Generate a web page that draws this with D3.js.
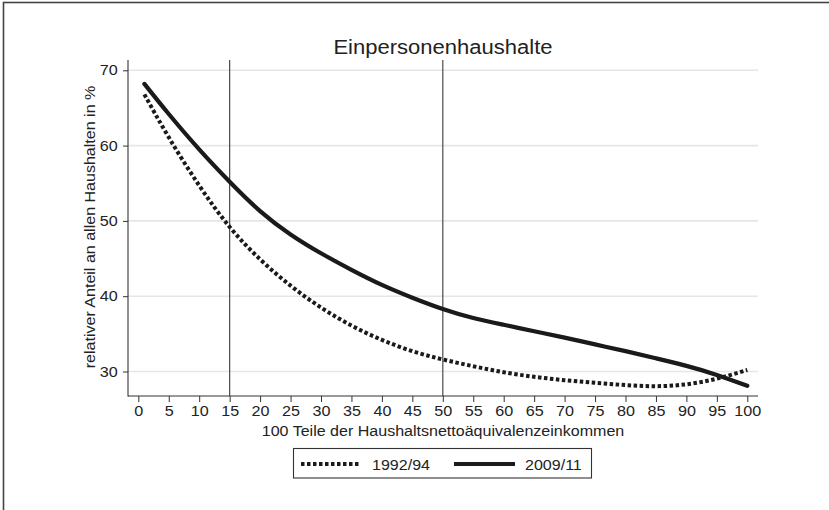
<!DOCTYPE html>
<html><head><meta charset="utf-8">
<script src="https://cdn.jsdelivr.net/npm/d3@7"></script>
<style>body{margin:0;background:#fff}svg{display:block}text{font-family:"Liberation Sans",Arial,sans-serif;fill:#222}</style>
</head><body>
<script>
const title = "Einpersonenhaushalte";
const xLabel = "100 Teile der Haushaltsnettoäquivalenzeinkommen";
const yLabel = "relativer Anteil an allen Haushalten in %";
const seriesNames = ["1992/94", "2009/11"];
const xVals = [1,5,10,15,20,25,30,35,40,45,50,55,60,65,70,75,80,85,90,95,100];
const v1992 = [66.8,61.1,54.7,49.2,44.9,41.4,38.5,36.1,34.2,32.7,31.6,30.7,29.9,29.3,28.85,28.5,28.2,28.05,28.3,29.05,30.2];
const v2009 = [68.2,64.2,59.5,55.2,51.3,48.2,45.7,43.5,41.5,39.8,38.3,37.1,36.2,35.35,34.5,33.6,32.7,31.75,30.75,29.55,28.1];
const xTicks = d3.range(0,101,5);
const yTicks = [30,40,50,60,70];
const refLines = [15,50];

(function(){
const W=829,H=510, SX=1.13;
const svg=d3.select("body").append("svg").attr("width",W).attr("height",H);
svg.append("rect").attr("x",3.5).attr("y",2.5).attr("width",W+20).attr("height",H+20)
  .attr("fill","none").attr("stroke","#444").attr("stroke-width",1.6);

const x=d3.scaleLinear().domain([0,100]).range([138.3,747.3]);
const y=d3.scaleLinear().domain([30,70]).range([371.5,70.3]);
const pL=128, pR=758, pT=60, pB=396;

svg.append("g").selectAll("line").data(yTicks).join("line")
  .attr("x1",pL).attr("x2",pR).attr("y1",d=>y(d)).attr("y2",d=>y(d))
  .attr("stroke","#e6e6e6").attr("stroke-width",1.6);

svg.append("g").selectAll("line").data(refLines).join("line")
  .attr("x1",d=>x(d)).attr("x2",d=>x(d)).attr("y1",pT).attr("y2",pB)
  .attr("stroke","#4a4a4a").attr("stroke-width",1.2);

const ya=svg.append("g").attr("transform",`translate(${pL},0)`)
  .call(d3.axisLeft(y).tickValues(yTicks).tickSize(5).tickPadding(4));
const xa=svg.append("g").attr("transform",`translate(0,${pB})`)
  .call(d3.axisBottom(x).tickValues(xTicks).tickSize(6).tickPadding(3.5));
[ya,xa].forEach(a=>{
  a.select(".domain").remove();
  a.selectAll(".tick line").attr("stroke","#333");
  a.selectAll(".tick text").attr("font-size",14.3).attr("fill","#222")
   .attr("font-family","Liberation Sans, Arial, sans-serif").attr("transform",`scale(${SX},1)`);
});
svg.append("line").attr("x1",pL).attr("x2",pL).attr("y1",pT).attr("y2",pB+0.5).attr("stroke","#333").attr("stroke-width",1.1);
svg.append("line").attr("x1",pL).attr("x2",pR).attr("y1",pB).attr("y2",pB).attr("stroke","#333").attr("stroke-width",1.1);

function txt(x0,y0,s,size,anchor,rot){
  const g=svg.append("g").attr("transform",`translate(${x0},${y0})`+(rot?` rotate(${rot})`:"")+` scale(${SX},1)`);
  g.append("text").attr("font-size",size).attr("text-anchor",anchor).text(s);
}
txt(443,53.5,title,19.5,"middle");
txt(443,436,xLabel,14.2,"middle");
txt(94.5,227,yLabel,14.2,"middle",-90);

const line=d3.line().x((d,i)=>x(xVals[i])).y(d=>y(d)).curve(d3.curveNatural);
svg.append("path").attr("d",line(v1992)).attr("fill","none").attr("stroke","#1a1a1a")
  .attr("stroke-width",4).attr("stroke-dasharray","3.5,2.5");
svg.append("path").attr("d",line(v2009)).attr("fill","none").attr("stroke","#1a1a1a")
  .attr("stroke-width",4.2).attr("stroke-linecap","round");

svg.append("rect").attr("x",293.5).attr("y",448.5).attr("width",298).attr("height",29.5)
  .attr("fill","#fff").attr("stroke","#333").attr("stroke-width",1.1);
svg.append("line").attr("x1",301).attr("x2",360).attr("y1",464).attr("y2",464)
  .attr("stroke","#1a1a1a").attr("stroke-width",4).attr("stroke-dasharray","3.5,2.5");
txt(372,469.5,seriesNames[0],14.2,"start");
svg.append("line").attr("x1",454).attr("x2",515).attr("y1",464).attr("y2",464)
  .attr("stroke","#1a1a1a").attr("stroke-width",4.2);
txt(525,469.5,seriesNames[1],14.2,"start");
})();
</script>
</body></html>
